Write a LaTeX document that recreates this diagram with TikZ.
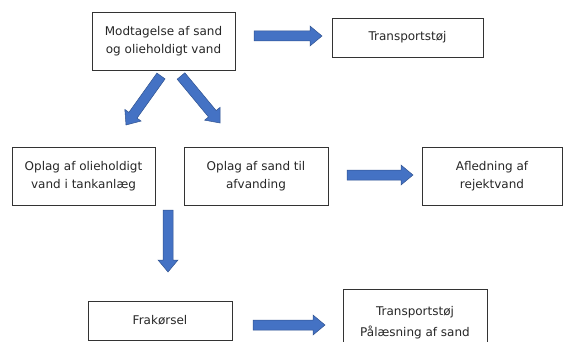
\documentclass[tikz,border=0pt]{standalone}
\usepackage{fontspec}
\setmainfont{DejaVu Sans}
\usetikzlibrary{
    calc,
    positioning
}
\definecolor{arrowblue}{HTML}{4472C4}
\definecolor{arrowedge}{HTML}{2F528F}
\tikzset{
    box/.style={draw=black!80, line width=0.8pt, align=center, text=black!85,
        font=\fontsize{12}{18.5}\selectfont, inner sep=0pt},
    blockarrow/.style={fill=arrowblue, draw=arrowedge, line width=0.5pt, line join=miter,
        to path={
            let \p1=($(\tikztotarget)!12pt!(\tikztostart)$) in
            ($(\tikztostart)!5pt!90:(\tikztotarget)$) -- ($(\p1)!5pt!90:(\tikztotarget)$)
            -- ($(\p1)!10pt!90:(\tikztotarget)$) -- (\tikztotarget)
            -- ($(\p1)!10pt!-90:(\tikztotarget)$) -- ($(\p1)!5pt!-90:(\tikztotarget)$)
            -- ($(\tikztostart)!5pt!-90:(\tikztotarget)$) -- cycle
        }}
}

\begin{document}
\begin{tikzpicture}[x=1pt, y=-1pt]
    \useasboundingbox (0,0) rectangle (564,342);

    \node[box, minimum width=143pt, minimum height=58pt] (modtag) at (163.5,41) {Modtagelse af sand\\og olieholdigt vand};
    \node[box, minimum width=151pt, minimum height=39pt] (stoej1) at (407.5,37.5) {Transportstøj};
    \node[box, minimum width=143pt, minimum height=58pt] (olie) at (83.5,176) {Oplag af olieholdigt\\vand i tankanlæg};
    \node[box, minimum width=144pt, minimum height=58pt] (sand) at (256,176) {Oplag af sand til\\afvanding};
    \node[box, minimum width=140pt, minimum height=58pt] (rejekt) at (492,176) {Afledning af\\rejektvand};
    \node[box, minimum width=144pt, minimum height=39pt] (frak) at (160,320.5) {Frakørsel};
    \node[box, minimum width=144pt, minimum height=67pt, anchor=north] (stoej2) at (415,289) {Transportstøj\\[2.5pt]Pålæsning af sand};

    \coordinate (a1s) at (254,36);   \coordinate (a1e) at (322,36);
    \coordinate (a2s) at (161,76);   \coordinate (a2e) at (126,125);
    \coordinate (a3s) at (181,76);   \coordinate (a3e) at (220,123);
    \coordinate (a4s) at (347,175);  \coordinate (a4e) at (413,175);
    \coordinate (a5s) at (168,210);  \coordinate (a5e) at (168,272);
    \coordinate (a6s) at (253,325);  \coordinate (a6e) at (325,325);

    \draw[blockarrow] (a1s) to (a1e);
    \draw[blockarrow] (a2s) to (a2e);
    \draw[blockarrow] (a3s) to (a3e);
    \draw[blockarrow] (a4s) to (a4e);
    \draw[blockarrow] (a5s) to (a5e);
    \draw[blockarrow] (a6s) to (a6e);
\end{tikzpicture}
\end{document}
